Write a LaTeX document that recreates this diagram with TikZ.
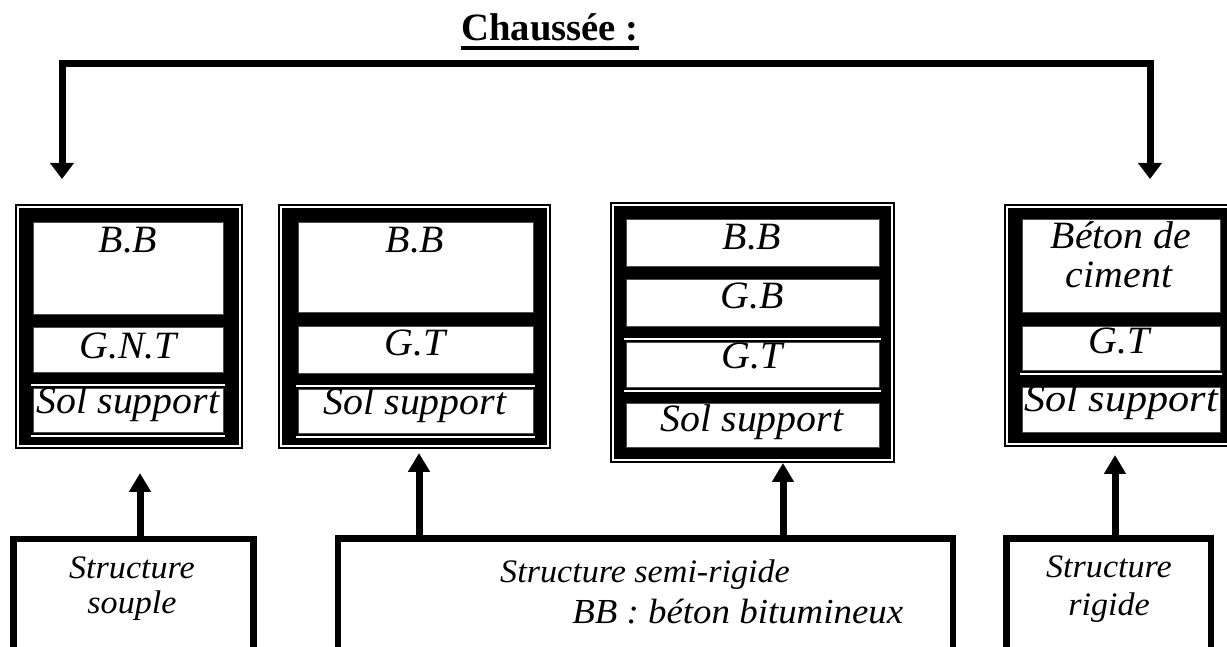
\documentclass[tikz,border=0pt]{standalone}
\usepackage{fontspec}
\setmainfont{Liberation Serif}
\usetikzlibrary{arrows.meta,fit,calc}
\newdimen\px \px=0.03cm
\newcommand\TitleFont{\fontsize{33pt}{38pt}\selectfont\bfseries}
\newcommand\LayFont{\fontsize{33pt}{38pt}\selectfont\itshape}
\newcommand\StrFont{\fontsize{28pt}{32pt}\selectfont\itshape}
\newcommand\BBFont{\fontsize{30pt}{34pt}\selectfont\itshape}
\begin{document}
\begin{tikzpicture}[x={(0.03cm,0)}, y={(0,-0.03cm)},
  frame/.style={draw=black, line width=1.2\px, inner sep=0pt, outer sep=0pt},
  layer/.style={draw=black!70, fill=white, line width=1\px, inner sep=0pt, outer sep=0pt},
  wline/.style={draw=white, line width=2\px},
  lab/.style={font=\LayFont, anchor=base, inner sep=0pt, xscale=1.03},
  sbox/.style={draw=black, line width=6.5\px, inner sep=0pt},
  stxt/.style={font=\StrFont, anchor=base, inner sep=0pt, xscale=1.04},
  topconn/.style={line width=7\px, line join=miter, {Triangle[length=13.66pt,width=19.63pt]}-{Triangle[length=13.66pt,width=19.63pt]}},
  upconn/.style={line width=7\px, -{Triangle[length=16.2pt,width=17.9pt]}},
]
\useasboundingbox (0,0) rectangle (1227,647);
\fill[white] (0,0) rectangle (1227,647);
\clip (0,0) rectangle (1227,647);

% title
\node[font=\TitleFont, anchor=base, inner sep=0pt] (title) at (550,41) {Chaussée :};
\draw[line width=3.5\px] ($(title.base west)+(0,7)$) -- ($(title.base east)+(0,7)$);

% top connector
\coordinate (tL) at (62,179);
\coordinate (tR) at (1150,179);
\coordinate (barR) at (1150,63.5);
\draw[topconn] (tL) |- (barR) -- (tR);

% ---------- box 1 ----------
\node[frame, fit={(16,205) (242,448)}] (b1) {};
\fill ([shift={(3,3)}]b1.north west) rectangle ([shift={(-3,-3)}]b1.south east);
\node[layer, fit={(33,222) (223,314)}] (b1a) {};
\node[layer, fit={(33,327) (223,372)}] (b1b) {};
\node[layer, fit={(33,388) (223,432)}] (b1c) {};
\draw[wline] (31,384.5) -- (225,384.5);
\draw[wline] (31,436) -- (225,436);
\node[lab] (b1at) at (128,252) {B.B};
\node[lab] (b1bt) at (128,358) {G.N.T};
\node[lab] (b1ct) at (128,413) {Sol support};

% ---------- box 2 ----------
\node[frame, fit={(279,205) (550,448)}] (b2) {};
\fill ([shift={(3,3)}]b2.north west) rectangle ([shift={(-3,-3)}]b2.south east);
\node[layer, fit={(298,222) (533,312)}] (b2a) {};
\node[layer, fit={(298,326) (533,373)}] (b2b) {};
\node[layer, fit={(298,389) (533,433)}] (b2c) {};
\draw[wline] (296,385.5) -- (535,385.5);
\draw[wline] (296,437) -- (535,437);
\node[lab] (b2at) at (415,252) {B.B};
\node[lab] (b2bt) at (415,355) {G.T};
\node[lab] (b2ct) at (415,414) {Sol support};

% ---------- box 3 ----------
\node[frame, fit={(611,203) (894,462)}] (b3) {};
\fill ([shift={(3,3)}]b3.north west) rectangle ([shift={(-3,-3)}]b3.south east);
\node[layer, fit={(626,219) (879,266)}] (b3a) {};
\node[layer, fit={(626,279) (879,326)}] (b3b) {};
\node[layer, fit={(626,342) (879,387)}] (b3c) {};
\node[layer, fit={(626,403) (879,447)}] (b3d) {};
\draw[wline] (624,338.5) -- (881,338.5);
\draw[wline] (624,390.5) -- (881,390.5);
\node[lab] (b3at) at (752,249) {B.B};
\node[lab] (b3bt) at (752,308) {G.B};
\node[lab] (b3ct) at (752,368) {G.T};
\node[lab] (b3dt) at (752,431) {Sol support};

% ---------- box 4 ----------
\node[frame, fit={(1005,205) (1240,446)}] (b4) {};
\fill ([shift={(3,3)}]b4.north west) rectangle ([shift={(-3,-3)}]b4.south east);
\node[layer, fit={(1022,219) (1220,312)}] (b4a) {};
\node[layer, fit={(1022,326) (1220,370)}] (b4b) {};
\node[layer, fit={(1022,387) (1220,432)}] (b4c) {};
\draw[wline] (1020,373.5) -- (1222,373.5);
\node[lab] (b4at) at (1121,248) {Béton de};
\node[lab] (b4at2) at (1119,287) {ciment};
\node[lab] (b4bt) at (1119,353) {G.T};
\node[lab, xscale=1.06] (b4ct) at (1121,411) {Sol support};

% ---------- bottom boxes ----------
\node[sbox, fit={(13.5,539) (253.5,650)}] (souple) {};
\node[sbox, fit={(338,538.5) (953,650)}] (semi) {};
\node[sbox, fit={(1006.5,538.5) (1211,650)}] (rigide) {};

\node[stxt] (s1a) at (132,578) {Structure};
\node[stxt] (s1b) at (132,613) {souple};
\node[stxt, anchor=base west] (s2a) at (500,582) {Structure semi-rigide};
\node[font=\BBFont, anchor=base west, inner sep=0pt, xscale=1.05] (s2b) at (572,623) {BB : béton bitumineux};
\node[stxt] (s3a) at (1109,577) {Structure};
\node[stxt] (s3b) at (1109,615) {rigide};

% ---------- up arrows ----------
\coordinate (u1) at (140,473);
\coordinate (u2) at (419,453);
\coordinate (u3) at (783,463);
\coordinate (u4) at (1115,455);
\draw[upconn] (souple.north -| u1) -- (u1);
\draw[upconn] (semi.north -| u2) -- (u2);
\draw[upconn] (semi.north -| u3) -- (u3);
\draw[upconn] (rigide.north -| u4) -- (u4);
\end{tikzpicture}
\end{document}
